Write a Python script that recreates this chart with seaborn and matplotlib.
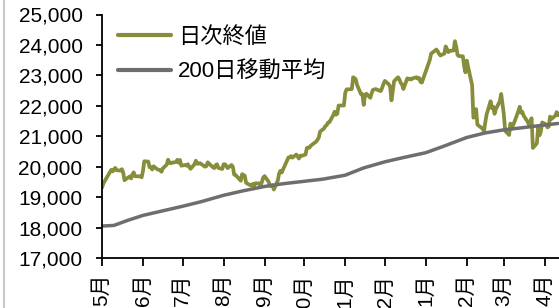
import matplotlib
matplotlib.use("Agg")
import matplotlib.pyplot as plt
from matplotlib.lines import Line2D
import seaborn as sns
import pandas as pd

# ---- data: daily closes (day -> value), by month ----
close_2017_05 = {1: 19310, 2: 19446, 8: 19896, 9: 19843, 10: 19900, 11: 19961, 12: 19883, 15: 19869,
                 16: 19919, 17: 19814, 18: 19554, 19: 19591, 22: 19678, 23: 19613, 24: 19742, 25: 19813,
                 26: 19687, 29: 19683, 30: 19677, 31: 19651}
close_2017_06 = {1: 19860, 2: 20177, 5: 20170, 6: 19980, 7: 19985, 8: 19909, 9: 20013, 12: 19908,
                 13: 19898, 14: 19883, 15: 19832, 16: 19943, 19: 20068, 20: 20230, 21: 20138, 22: 20111,
                 23: 20133, 26: 20153, 27: 20225, 28: 20130, 29: 20220, 30: 20033}
close_2017_07 = {3: 20056, 4: 20032, 5: 20081, 6: 19994, 7: 19929, 10: 20081, 11: 20195, 12: 20098,
                 13: 20099, 14: 20119, 18: 19999, 19: 20020, 20: 20144, 21: 20100, 24: 19976, 25: 19955,
                 26: 20050, 27: 20080, 28: 19960, 31: 19925}
close_2017_08 = {1: 20080, 2: 20080, 3: 20030, 4: 19952, 7: 20056, 8: 19996, 9: 19738, 10: 19730,
                 14: 19538, 15: 19754, 16: 19729, 17: 19703, 18: 19470, 21: 19394, 22: 19384, 23: 19434,
                 24: 19354, 25: 19453, 28: 19450, 29: 19363, 30: 19507, 31: 19646}
close_2017_09 = {1: 19691, 4: 19508, 5: 19385, 6: 19358, 7: 19396, 8: 19250, 11: 19546, 12: 19777,
                 13: 19866, 14: 19808, 15: 19910, 19: 20299, 20: 20310, 21: 20348, 22: 20296, 25: 20398,
                 26: 20331, 27: 20268, 28: 20364, 29: 20356}
close_2017_10 = {2: 20400, 3: 20615, 4: 20627, 5: 20629, 6: 20691, 10: 20824, 11: 20882, 12: 20955,
                 13: 21155, 16: 21256, 17: 21337, 18: 21364, 19: 21449, 20: 21458, 23: 21697, 24: 21806,
                 25: 21708, 26: 21740, 27: 22008, 30: 22012, 31: 22012}
close_2017_11 = {1: 22420, 2: 22540, 6: 22548, 7: 22938, 8: 22914, 9: 22869, 10: 22681, 13: 22381,
                 14: 22380, 15: 22029, 16: 22351, 17: 22397, 20: 22262, 21: 22417, 22: 22524, 24: 22551,
                 27: 22496, 28: 22487, 29: 22597, 30: 22725}
close_2017_12 = {1: 22819, 4: 22707, 5: 22622, 6: 22178, 7: 22498, 8: 22811, 11: 22938, 12: 22866,
                 13: 22758, 14: 22695, 15: 22553, 18: 22902, 19: 22868, 20: 22892, 21: 22866, 22: 22903,
                 25: 22939, 26: 22892, 27: 22912, 28: 22784, 29: 22765}
close_2018_01 = {4: 23506, 5: 23715, 9: 23850, 10: 23788, 11: 23710, 12: 23653, 15: 23715, 16: 23952,
                 17: 23868, 18: 23763, 19: 23808, 22: 23816, 23: 24124, 24: 23940, 25: 23669, 26: 23632,
                 29: 23629, 30: 23292, 31: 23098}
close_2018_02 = {1: 23486, 2: 23274, 5: 22682, 6: 21610, 7: 21645, 8: 21891, 9: 21383, 13: 21245,
                 14: 21154, 15: 21464, 16: 21720, 19: 22150, 20: 21925, 21: 21970, 22: 21737, 23: 21893,
                 26: 22153, 27: 22390, 28: 22068}
close_2018_03 = {1: 21724, 2: 21182, 5: 21042, 6: 21417, 7: 21253, 8: 21368, 9: 21469, 12: 21824,
                 13: 21968, 14: 21777, 15: 21803, 16: 21676, 19: 21480, 20: 21380, 22: 21591, 23: 20617,
                 26: 20766, 27: 21317, 28: 21031, 29: 21159, 30: 21454}
close_2018_04 = {2: 21388, 3: 21292, 4: 21319, 5: 21645, 6: 21568, 9: 21678, 10: 21794, 11: 21687}

# 200-day moving average
ma_dates = ["2017-05-01", "2017-05-10", "2017-05-20", "2017-06-01", "2017-06-15", "2017-07-01",
            "2017-07-15", "2017-08-01", "2017-08-15", "2017-09-01", "2017-09-15", "2017-10-01",
            "2017-10-15", "2017-11-01", "2017-11-15", "2017-12-01", "2017-12-15", "2018-01-01",
            "2018-01-15", "2018-02-01", "2018-02-15", "2018-03-01", "2018-03-15", "2018-04-01",
            "2018-04-11"]
ma_values = [18050, 18070, 18230, 18400, 18540, 18700, 18850, 19060, 19200, 19350, 19440, 19520,
             19590, 19720, 19960, 20160, 20300, 20460, 20680, 20960, 21110, 21210, 21280, 21370,
             21420]

month_labels = ["5月", "6月", "7月", "8月", "9月", "10月", "11月", "12月", "1月", "2月", "3月", "4月"]
legend_labels = ["日次終値", "200日移動平均"]
y_ticks = [17000, 18000, 19000, 20000, 21000, 22000, 23000, 24000, 25000]

# ---- build tables ----
months = [("2017-05", close_2017_05), ("2017-06", close_2017_06), ("2017-07", close_2017_07),
          ("2017-08", close_2017_08), ("2017-09", close_2017_09), ("2017-10", close_2017_10),
          ("2017-11", close_2017_11), ("2017-12", close_2017_12), ("2018-01", close_2018_01),
          ("2018-02", close_2018_02), ("2018-03", close_2018_03), ("2018-04", close_2018_04)]
rows = []
for ym, d in months:
    for day, v in d.items():
        rows.append((pd.Timestamp(f"{ym}-{day:02d}"), v))
df_close = pd.DataFrame(rows, columns=["date", "value"])
df_ma = pd.DataFrame({"date": pd.to_datetime(ma_dates), "value": ma_values})

sns.set_style("white")
plt.rcParams['font.family'] = ['Liberation Sans', 'Noto Sans CJK JP', 'DejaVu Sans']

W, H = 559, 308
fig = plt.figure(figsize=(W / 100, H / 100), dpi=100)
ax = fig.add_axes([102 / W, 1 - 258 / H, 1 - 102 / W, (258 - 14.5) / H])

green = "#878D3A"
gray = "#6E6E6E"
sns.lineplot(data=df_close, x="date", y="value", ax=ax, color=green, linewidth=2.7)
sns.lineplot(data=df_ma, x="date", y="value", ax=ax, color=gray, linewidth=2.5)

ax.set_ylim(17000, 25000)
ax.set_xlim(pd.Timestamp("2017-05-01"), pd.Timestamp("2018-04-11 18:00"))
ax.set_yticks(y_ticks)
ax.set_yticklabels([f"{v:,}" for v in y_ticks])
tick_dates = pd.date_range("2017-05-01", periods=12, freq="MS")
ax.set_xticks(tick_dates)
ax.set_xticklabels(month_labels, rotation=90, va="top", ha="center")
ax.set_xlabel("")
ax.set_ylabel("")

for s in ["top", "right"]:
    ax.spines[s].set_visible(False)
for s in ["left", "bottom"]:
    ax.spines[s].set_color("black")
    ax.spines[s].set_linewidth(1.3)
ax.tick_params(axis="y", direction="out", length=4, width=1.3, color="black", pad=10,
               labelsize=15, labelcolor="black", left=True)
ax.tick_params(axis="x", direction="out", length=5.5, width=1.3, color="black", pad=6,
               labelsize=15, labelcolor="black", bottom=True)

handles = [Line2D([], [], color=green, linewidth=3), Line2D([], [], color=gray, linewidth=3)]
leg = ax.legend(handles, legend_labels, loc="upper left",
                bbox_to_anchor=(118 / W, 1 - 27 / H), bbox_transform=fig.transFigure,
                frameon=False, fontsize=16, handlelength=2.4, handletextpad=0.3,
                labelspacing=0.6, borderpad=0, borderaxespad=0)
for t in leg.get_texts():
    t.set_color("black")

fig.add_artist(Line2D([3.5 / W, 3.5 / W], [0, 1], transform=fig.transFigure,
                      color="#C8C8C8", linewidth=1.5))

fig.savefig("out.png", dpi=100)
